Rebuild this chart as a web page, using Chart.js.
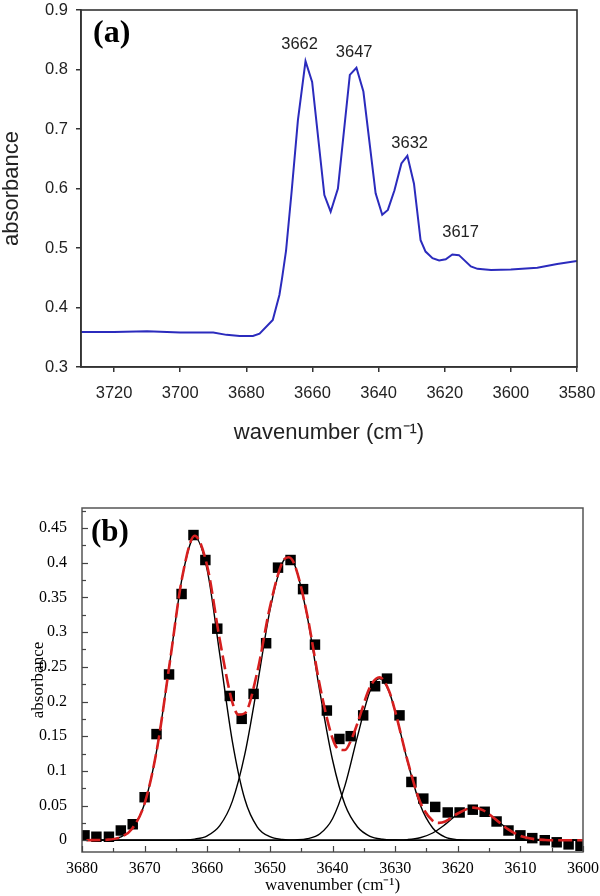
<!DOCTYPE html>
<html><head><meta charset="utf-8">
<script src="https://cdn.jsdelivr.net/npm/chart.js@4.4.1/dist/chart.umd.min.js"></script>
<style>
html,body{margin:0;padding:0;background:#fff;width:600px;height:896px;overflow:hidden;}
.wrap{position:absolute;left:0;width:600px;}
#wrapA{top:0;height:450px;}
#wrapB{top:490px;height:406px;}
</style></head><body>
<div id="wrapA" class="wrap"><canvas id="chartA" width="600" height="450"></canvas></div>
<div id="wrapB" class="wrap"><canvas id="chartB" width="600" height="406"></canvas></div>
<script>
// ---------- Panel (a): measured spectrum ----------
const wavenumberA = [3730, 3720, 3710, 3700, 3690, 3686, 3682, 3678, 3676, 3672, 3670, 3669.2, 3668, 3666.3, 3664.4, 3662.1, 3660.1, 3656.4, 3654.5, 3652.3, 3648.7, 3646.7, 3644.6, 3640.9, 3638.9, 3637.2, 3635.2, 3633.1, 3631.3, 3629.3, 3627.3, 3625.8, 3623.7, 3621.7, 3619.7, 3617.7, 3615.7, 3612.1, 3610.1, 3606, 3600, 3592, 3586, 3580];
const absorbanceA = [0.359, 0.359, 0.360, 0.358, 0.358, 0.354, 0.352, 0.352, 0.356, 0.379, 0.421, 0.449, 0.495, 0.595, 0.715, 0.814, 0.779, 0.589, 0.561, 0.600, 0.791, 0.803, 0.763, 0.592, 0.556, 0.564, 0.597, 0.642, 0.655, 0.608, 0.513, 0.494, 0.483, 0.479, 0.481, 0.489, 0.488, 0.469, 0.465, 0.463, 0.464, 0.467, 0.473, 0.478];
const peakLabels = ['3662', '3647', '3632', '3617'];
const peakLabelX = [3663.9, 3647.4, 3630.6, 3615.2];
const peakLabelY = [0.842, 0.829, 0.676, 0.526];
const xTicksA = [3720, 3700, 3680, 3660, 3640, 3620, 3600, 3580];
const yTicksA = [0.3, 0.4, 0.5, 0.6, 0.7, 0.8, 0.9];

// ---------- Panel (b): data points and fitted components ----------
const wavenumberB = [3679.6, 3677.7, 3675.7, 3673.8, 3671.9, 3670.0, 3668.1, 3666.1, 3664.1, 3662.2, 3660.3, 3658.4, 3656.4, 3654.5, 3652.6, 3650.6, 3648.7, 3646.7, 3644.7, 3642.8, 3640.9, 3638.9, 3637.1, 3635.1, 3633.2, 3631.3, 3629.3, 3627.4, 3625.5, 3623.6, 3621.6, 3619.7, 3617.6, 3615.7, 3613.8, 3611.9, 3610.0, 3608.1, 3606.1, 3604.2, 3602.3, 3600.4];
const absorbanceB = [0.007, 0.005, 0.005, 0.014, 0.023, 0.062, 0.153, 0.239, 0.355, 0.440, 0.404, 0.305, 0.208, 0.175, 0.211, 0.284, 0.393, 0.404, 0.362, 0.282, 0.187, 0.146, 0.150, 0.180, 0.222, 0.233, 0.180, 0.084, 0.060, 0.048, 0.040, 0.040, 0.044, 0.041, 0.027, 0.014, 0.007, 0.003, 0.000, -0.003, -0.006, -0.008];

const fitSumX = [3679.3, 3676, 3674, 3672, 3670, 3668, 3666, 3664, 3662, 3660, 3658, 3656, 3655, 3654, 3652, 3650, 3648, 3647, 3646, 3644, 3642, 3640, 3639, 3638, 3637, 3636, 3634, 3632.5, 3631, 3630, 3628, 3626, 3624, 3623, 3622, 3620, 3617.5, 3616, 3614, 3612, 3610, 3608, 3606, 3604, 3600];
const fitSumY = [0, 0.0007, 0.004, 0.0166, 0.053, 0.133, 0.255, 0.379, 0.439, 0.395, 0.289, 0.199, 0.181, 0.183, 0.243, 0.336, 0.401, 0.408, 0.396, 0.323, 0.222, 0.147, 0.131, 0.130, 0.145, 0.169, 0.221, 0.235, 0.216, 0.186, 0.114, 0.055, 0.028, 0.025, 0.027, 0.0385, 0.047, 0.0434, 0.0304, 0.016, 0.0063, 0.0019, 0.0004, 0, 0];

const comp1X = [3680, 3676, 3674, 3672, 3670, 3668, 3666, 3664, 3662, 3660, 3658, 3656, 3654, 3652, 3650, 3648, 3646, 3600];
const comp1Y = [0, 0.0007, 0.004, 0.0166, 0.053, 0.133, 0.255, 0.379, 0.437, 0.389, 0.268, 0.143, 0.059, 0.019, 0.005, 0.001, 0, 0];
const comp2X = [3680, 3666, 3664, 3662, 3660, 3658, 3656, 3654, 3652, 3650, 3648, 3647, 3646, 3644, 3642, 3640, 3638, 3636, 3634, 3632, 3630, 3628, 3600];
const comp2Y = [0, 0, 0.0003, 0.0016, 0.0064, 0.021, 0.056, 0.124, 0.224, 0.331, 0.400, 0.408, 0.396, 0.321, 0.213, 0.116, 0.051, 0.019, 0.0056, 0.0014, 0.0003, 0, 0];
const comp3X = [3680, 3648, 3646, 3644, 3642, 3640, 3638, 3636, 3634, 3632.5, 3631, 3630, 3628, 3626, 3624, 3622, 3620, 3618, 3616, 3600];
const comp3Y = [0, 0, 0.0004, 0.0021, 0.0093, 0.031, 0.079, 0.150, 0.215, 0.233, 0.215, 0.186, 0.113, 0.051, 0.0176, 0.0045, 0.0009, 0.0001, 0, 0];
const comp4X = [3680, 3632, 3630, 3628, 3626, 3624, 3622, 3620, 3617.5, 3616, 3614, 3612, 3610, 3608, 3606, 3604, 3600];
const comp4Y = [0, 0, 0.0002, 0.0009, 0.0036, 0.0104, 0.0228, 0.0376, 0.047, 0.0434, 0.0304, 0.016, 0.0063, 0.0019, 0.0004, 0, 0];

const xTicksB = [3680, 3670, 3660, 3650, 3640, 3630, 3620, 3610, 3600];
const yTicksB = [0, 0.05, 0.1, 0.15, 0.2, 0.25, 0.3, 0.35, 0.4, 0.45];

// ---------- helpers ----------
const pts = (xs, ys) => xs.map((x, i) => ({x: x, y: ys[i]}));
const SANS = "'Liberation Sans', Arial, Helvetica, sans-serif";
const SERIF = "'Liberation Serif', 'Times New Roman', Times, serif";
const noPad = s => { s.paddingTop = 0; s.paddingBottom = 0; s.paddingLeft = 0; s.paddingRight = 0; };

const frameBox = {
  id: 'frameBox',
  afterDraw(chart, args, o) {
    const {ctx, chartArea: a} = chart;
    ctx.save();
    ctx.strokeStyle = o.color; ctx.lineWidth = o.width;
    ctx.strokeRect(a.left, a.top, a.right - a.left, a.bottom - a.top);
    ctx.restore();
  }
};

const panelText = {
  id: 'panelText',
  afterDraw(chart, args, o) {
    const {ctx, chartArea: a} = chart;
    ctx.save();
    ctx.fillStyle = '#000';
    ctx.textAlign = 'left'; ctx.textBaseline = 'middle';
    ctx.font = o.panelFont;
    ctx.fillText(o.panel, a.left + o.dx, a.top + o.dy);
    if (o.labels) {
      ctx.font = o.labelFont; ctx.fillStyle = o.labelColor;
      ctx.textAlign = 'center';
      o.labels.forEach((t, i) => {
        ctx.fillText(t, chart.scales.x.getPixelForValue(o.lx[i]), chart.scales.y.getPixelForValue(o.ly[i]));
      });
    }
    ctx.restore();
  }
};

const inwardTicks = {
  id: 'inwardTicks',
  afterDraw(chart, args, o) {
    const {ctx, chartArea: a, scales: {x, y}} = chart;
    ctx.save();
    ctx.strokeStyle = o.color; ctx.lineWidth = o.width;
    const draw = (scale, vals, len, horiz) => {
      vals.forEach(v => {
        const p = Math.round(scale.getPixelForValue(v)) + 0.5;
        ctx.beginPath();
        if (horiz) { ctx.moveTo(p, a.bottom); ctx.lineTo(p, a.bottom - len); }
        else { ctx.moveTo(a.left, p); ctx.lineTo(a.left + len, p); }
        ctx.stroke();
      });
    };
    const minors = (vals, lo, hi) => {
      const step = vals[1] - vals[0];
      const out = vals.map(v => v + step / 2);
      out.push(vals[0] - step / 2);
      return out.filter(m => m > Math.min(lo, hi) && m < Math.max(lo, hi));
    };
    draw(x, xTicksB, o.major, true);
    draw(x, minors(xTicksB, x.min, x.max), o.minor, true);
    draw(y, yTicksB, o.major, false);
    draw(y, minors(yTicksB, y.min, y.max), o.minor, false);
    ctx.restore();
  }
};

// ---------- Chart (a) ----------
new Chart(document.getElementById('chartA'), {
  type: 'line',
  data: {
    datasets: [{
      data: pts(wavenumberA, absorbanceA),
      borderColor: '#2b2bbd', borderWidth: 2, pointRadius: 0, tension: 0, fill: false
    }]
  },
  options: {
    responsive: false, animation: false, devicePixelRatio: 1,
    layout: {padding: {left: 0, top: 10, right: 23, bottom: 0}},
    plugins: {
      legend: {display: false}, tooltip: {enabled: false},
      frameBox: {color: '#333', width: 1.6},
      panelText: {panel: '(a)', panelFont: "bold 32px " + SERIF, dx: 12, dy: 24,
        labels: peakLabels, lx: peakLabelX, ly: peakLabelY,
        labelFont: "16.5px " + SANS, labelColor: '#222'}
    },
    scales: {
      x: {
        type: 'linear', reverse: true, min: 3580, max: 3730,
        afterBuildTicks: s => { s.ticks = xTicksA.map(v => ({value: v})); },
        afterFit: s => { s.height = 83; noPad(s); },
        grid: {drawOnChartArea: false, drawTicks: true, tickLength: 5, color: '#333', lineWidth: 1.5},
        border: {display: true, color: '#333', width: 1.6},
        ticks: {color: '#222', font: {family: SANS, size: 16.5}, padding: 12, maxRotation: 0, autoSkip: false,
          callback: v => String(v)},
        title: {display: true, text: 'wavenumber (cm\u207B\u00B9)', color: '#222',
          font: {family: SANS, size: 22, lineHeight: 1.2}, padding: {top: 0, bottom: 4}}
      },
      y: {
        type: 'linear', min: 0.3, max: 0.9,
        afterBuildTicks: s => { s.ticks = yTicksA.map(v => ({value: v})); },
        afterFit: s => { s.width = 81; noPad(s); },
        grid: {drawOnChartArea: false, drawTicks: true, tickLength: 5, color: '#333', lineWidth: 1.5},
        border: {display: true, color: '#333', width: 1.6},
        ticks: {color: '#222', font: {family: SANS, size: 16.5}, padding: 8, autoSkip: false,
          callback: v => Number(v).toFixed(1)},
        title: {display: true, text: 'absorbance', color: '#222',
          font: {family: SANS, size: 22, lineHeight: 1.1}, padding: {top: 0, bottom: 0}}
      }
    }
  },
  plugins: [frameBox, panelText]
});

// ---------- Chart (b) ----------
new Chart(document.getElementById('chartB'), {
  type: 'line',
  data: {
    datasets: [
      {data: pts(comp1X, comp1Y), borderColor: '#000', borderWidth: 1.4, pointRadius: 0, cubicInterpolationMode: 'monotone', fill: false, order: 4},
      {data: pts(comp2X, comp2Y), borderColor: '#000', borderWidth: 1.4, pointRadius: 0, cubicInterpolationMode: 'monotone', fill: false, order: 4},
      {data: pts(comp3X, comp3Y), borderColor: '#000', borderWidth: 1.4, pointRadius: 0, cubicInterpolationMode: 'monotone', fill: false, order: 4},
      {data: pts(comp4X, comp4Y), borderColor: '#000', borderWidth: 1.4, pointRadius: 0, cubicInterpolationMode: 'monotone', fill: false, order: 4},
      {data: pts(wavenumberB, absorbanceB), showLine: false, pointStyle: 'rect', pointRadius: 7.4,
        pointBackgroundColor: '#000', pointBorderWidth: 0, order: 2},
      {data: pts(fitSumX, fitSumY), borderColor: '#d61f1f', borderWidth: 2.6, borderDash: [14, 5],
        pointRadius: 0, cubicInterpolationMode: 'monotone', fill: false, order: 1}
    ]
  },
  options: {
    responsive: false, animation: false, devicePixelRatio: 1,
    layout: {padding: {left: 0, top: 18, right: 17, bottom: 0}},
    plugins: {
      legend: {display: false}, tooltip: {enabled: false},
      frameBox: {color: '#555', width: 1.5},
      panelText: {panel: '(b)', panelFont: "bold 31px " + SERIF, dx: 9, dy: 25},
      inwardTicks: {color: '#444', width: 1.2, major: 6, minor: 4}
    },
    scales: {
      x: {
        type: 'linear', reverse: true, min: 3600, max: 3680,
        afterBuildTicks: s => { s.ticks = xTicksB.map(v => ({value: v})); },
        afterFit: s => { s.height = 44; noPad(s); },
        grid: {display: false, drawOnChartArea: false, drawTicks: false},
        border: {display: false},
        ticks: {color: '#000', font: {family: SERIF, size: 16}, padding: 7, maxRotation: 0, autoSkip: false,
          callback: v => String(v)},
        title: {display: true, text: 'wavenumber (cm\u207B\u00B9)', color: '#000',
          font: {family: SERIF, size: 17, lineHeight: 1.2}, padding: {top: 0, bottom: 0}}
      },
      y: {
        type: 'linear', min: -0.017, max: 0.479,
        afterBuildTicks: s => { s.ticks = yTicksB.map(v => ({value: v})); },
        afterFit: s => { s.width = 82; noPad(s); },
        grid: {display: false, drawOnChartArea: false, drawTicks: false},
        border: {display: false},
        ticks: {color: '#000', font: {family: SERIF, size: 16}, padding: 15, autoSkip: false,
          callback: v => String(parseFloat(Number(v).toFixed(2)))},
        title: {display: true, text: 'absorbance', color: '#000',
          font: {family: SERIF, size: 17, lineHeight: 1.2}, padding: {top: 28, bottom: 0}}
      }
    }
  },
  plugins: [frameBox, panelText, inwardTicks]
});
</script>
</body></html>
